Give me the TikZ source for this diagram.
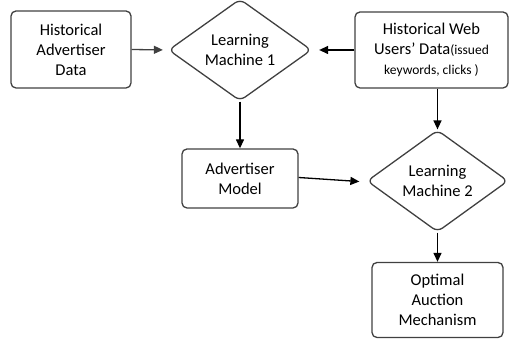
\documentclass[tikz,border=0pt]{standalone}
\usepackage{fontspec}
\setmainfont{Carlito}
\usetikzlibrary{shapes.geometric,arrows.meta}
\begin{document}
\begin{tikzpicture}[x=1pt,y=1pt,
  box/.style={draw=black!75, line width=1.3pt, rounded corners=5pt, align=center, inner sep=0pt, font=\fontsize{16.5}{20}\selectfont},
  dia/.style={draw=black!75, line width=1.3pt, diamond, rounded corners=6pt, align=center, inner sep=0pt, font=\fontsize{16.5}{20}\selectfont},
  arr/.style={line width=1.3pt, -{Triangle[length=9pt,width=8pt]}}
]
\useasboundingbox (0,0) rectangle (512,339);
\node[box, minimum width=120pt, minimum height=77pt] (had) at (71,289.5) {Historical\\Advertiser\\Data};
\node[dia, minimum width=143pt, minimum height=85pt] (lm1) at (240,289) {Learning\\Machine 1};
\node[box, minimum width=153pt, minimum height=76pt] (hwu) at (431.5,289) {Historical Web\\Users’ Data{\fontsize{13.5}{20}\selectfont(issued}\\{\fontsize{13.5}{20}\selectfont keywords, clicks )}};
\node[box, minimum width=116pt, minimum height=59pt] (am) at (240,160.5) {Advertiser\\Model};
\node[dia, minimum width=141pt, minimum height=76pt] (lm2) at (437.5,158) {Learning\\Machine 2};
\node[box, minimum width=131pt, minimum height=75pt] (oam) at (437.5,39) {Optimal\\Auction\\Mechanism};
\draw[arr, draw=black!75, fill=black!75, shorten >=5pt] (had.east) -- (lm1.west);
\draw[arr, shorten >=7pt] (hwu.west) -- (lm1.east);
\draw[arr] (lm1.south) -- (am.north);
\draw[arr] (hwu.south -| lm2.north) -- (lm2.north);
\draw[arr, shorten >=7pt] ([yshift=1pt]am.east) -- ([yshift=-1pt]lm2.west);
\draw[arr] (lm2.south) -- (oam.north);
\end{tikzpicture}
\end{document}
